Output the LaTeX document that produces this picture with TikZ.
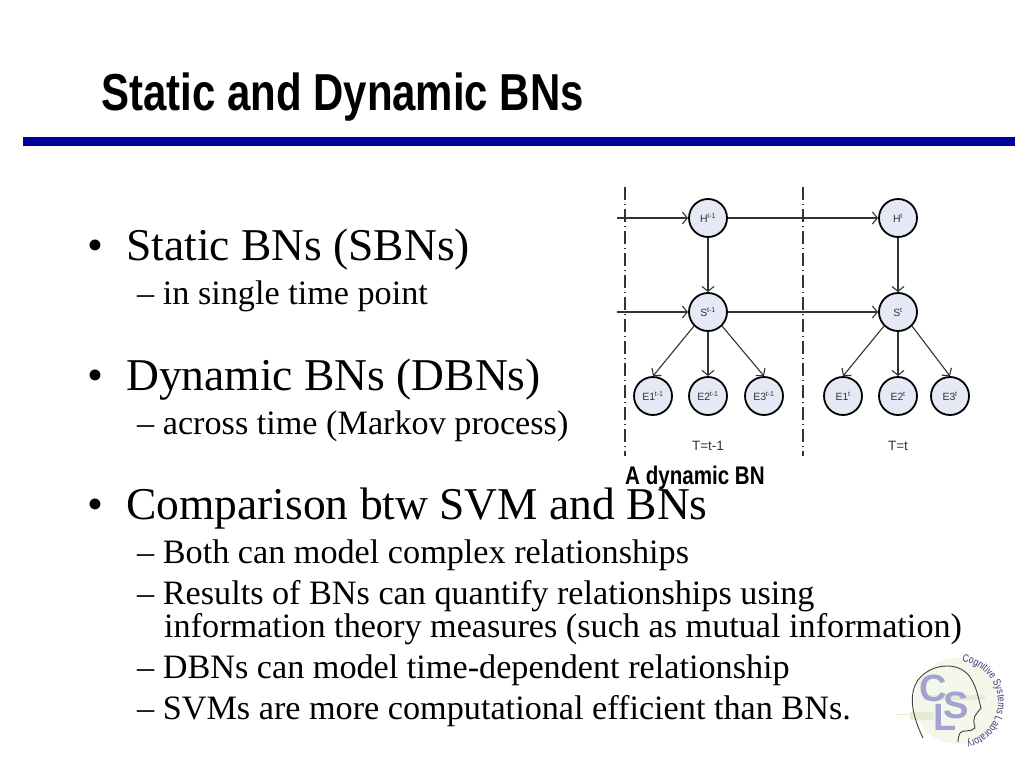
\documentclass[tikz,border=0pt]{standalone}
\usepackage{fontspec}
\setmainfont{Liberation Serif}
\newfontfamily\sansf{Liberation Sans}
\newfontfamily\narrowf[FakeStretch=0.807]{Liberation Sans}
\usetikzlibrary{arrows.meta,decorations.text}
\definecolor{rulecol}{HTML}{000099}
\definecolor{nodefill}{HTML}{E4E9F5}
\definecolor{edgecol}{HTML}{333333}
\definecolor{logocol}{HTML}{A2A3D2}
\definecolor{logobg}{HTML}{F5F7EA}
\definecolor{logobar}{HTML}{E6EBD2}
\definecolor{logotext}{HTML}{3A3A78}
\tikzset{
  bn/.style={circle,draw=black,line width=1.8pt,fill=nodefill,minimum size=38pt,inner sep=0pt,font=\sansf\fontsize{10.5}{11}\selectfont,text=black!80},
  edge/.style={draw=edgecol,line width=1.1pt,-{Straight Barb[length=5pt,width=12pt]}},
  slice/.style={draw=black!80,line width=1.1pt,dash pattern=on 13pt off 4pt on 1pt off 4pt},
  mainitem/.style={anchor=base west,inner sep=0pt,font=\fontsize{45.5}{48}\selectfont},
  subitem/.style={anchor=base west,inner sep=0pt,font=\fontsize{34.2}{36}\selectfont},
  slicecap/.style={inner sep=0pt,font=\sansf\fontsize{13.5}{15}\selectfont,text=black!80},
  logoletter/.style={inner sep=0pt,text=logocol,font=\sansf\bfseries\fontsize{38}{38}\selectfont}
}
\newcommand{\up}[1]{\textsuperscript{\kern-0.3pt\fontsize{7}{7}\selectfont #1}}
\begin{document}
\begin{tikzpicture}[x=1pt,y=-1pt]
\useasboundingbox (0,0) rectangle (1024,768);
\fill[white] (0,0) rectangle (1024,768);
% title
\node[anchor=base west,inner sep=0pt,font=\narrowf\bfseries\fontsize{52}{54}\selectfont] (title) at (101,110) {Static and Dynamic BNs};
\fill[rulecol] (23,137) rectangle (1015,146);
% bullets
\node[mainitem] (b1) at (87,260) {•};
\node[mainitem] (t1) at (126,260) {Static BNs (SBNs)};
\node[subitem] (s1) at (137,304) {– in single time point};
\node[mainitem] (b2) at (87,390) {•};
\node[mainitem] (t2) at (126,390) {Dynamic BNs (DBNs)};
\node[subitem] (s2) at (137,434) {– across time (Markov process)};
\node[mainitem] (b3) at (87,519) {•};
\node[mainitem] (t3) at (126,519) {Comparison btw SVM and BNs};
\node[subitem] (s3) at (137,563) {– Both can model complex relationships};
\node[subitem] (s4) at (137,604) {– Results of BNs can quantify relationships using};
\node[subitem] (s5) at (164,637) {information theory measures (such as mutual information)};
\node[subitem] (s6) at (137,678) {– DBNs can model time-dependent relationship};
\node[subitem] (s7) at (137,719) {– SVMs are more computational efficient than BNs.};
% diagram
\coordinate (d1a) at (625,187); \coordinate (d1b) at (625,456);
\coordinate (d2a) at (803,187); \coordinate (d2b) at (803,456);
\draw[slice] (d1a) -- (d1b);
\draw[slice] (d2a) -- (d2b);
\node[bn] (H0) at (708,218) {H\up{t-1}};
\node[bn] (H1) at (898,218) {H\up{t}};
\node[bn] (S0) at (708,312) {S\up{t-1}};
\node[bn] (S1) at (898,312) {S\up{t}};
\node[bn] (Ea0) at (653,396) {E1\up{t-1}};
\node[bn] (Eb0) at (708,396) {E2\up{t-1}};
\node[bn] (Ec0) at (764,396) {E3\up{t-1}};
\node[bn] (Ea1) at (843,396) {E1\up{t}};
\node[bn] (Eb1) at (898,396) {E2\up{t}};
\node[bn] (Ec1) at (950,396) {E3\up{t}};
\coordinate (inH) at (617,218);
\coordinate (inS) at (617,312);
\draw[edge] (inH) -- (H0);
\draw[edge] (inS) -- (S0);
\draw[edge] (H0) -- (H1);
\draw[edge] (S0) -- (S1);
\draw[edge] (H0) -- (S0);
\draw[edge] (H1) -- (S1);
\draw[edge] (S0.225) -- (Ea0.north);
\draw[edge] (S0) -- (Eb0);
\draw[edge] (S0.315) -- (Ec0.north);
\draw[edge] (S1.225) -- (Ea1.north);
\draw[edge] (S1) -- (Eb1);
\draw[edge] (S1.315) -- (Ec1.north);
\node[slicecap] (T0) at (708,446) {T=t-1};
\node[slicecap] (T1) at (898,446) {T=t};
\node[anchor=base west,inner sep=0pt,font=\narrowf\bfseries\fontsize{25.5}{27}\selectfont] (dyncap) at (625,484) {A dynamic BN};
% logo
\fill[logobg] (957,701) circle (43);
\fill[logobar] (910,712) rectangle (934,720);
\draw[logobar,line width=1pt] (896,714) -- (935,714);
\fill[logobar] (923,695) rectangle (985,700);
\node[logoletter] (lc) at (933.5,688.5) {C};
\node[logoletter] (ll) at (945,717.5) {L};
\node[logoletter] (ls) at (956.5,705.5) {S};
\draw[black!75,line width=0.9pt] (923,738) .. controls (912,715) and (908,695) .. (918,680)
  .. controls (930,664) and (958,660) .. (970,677)
  .. controls (976,686) and (978,696) .. (981,708)
  .. controls (975,716) and (972,716) .. (975,728)
  .. controls (970,733) and (963,729) .. (960,733)
  .. controls (959,735) and (958,738) .. (958,742);
\path[decorate,decoration={text along path,text align=left,
  text={|\narrowf\fontsize{10.6}{12}\selectfont\color{logotext}|Cognitive Systems Laboratory}}]
  (962,661.5) arc[start angle=-83,end angle=110,radius=41];
\end{tikzpicture}
\end{document}
